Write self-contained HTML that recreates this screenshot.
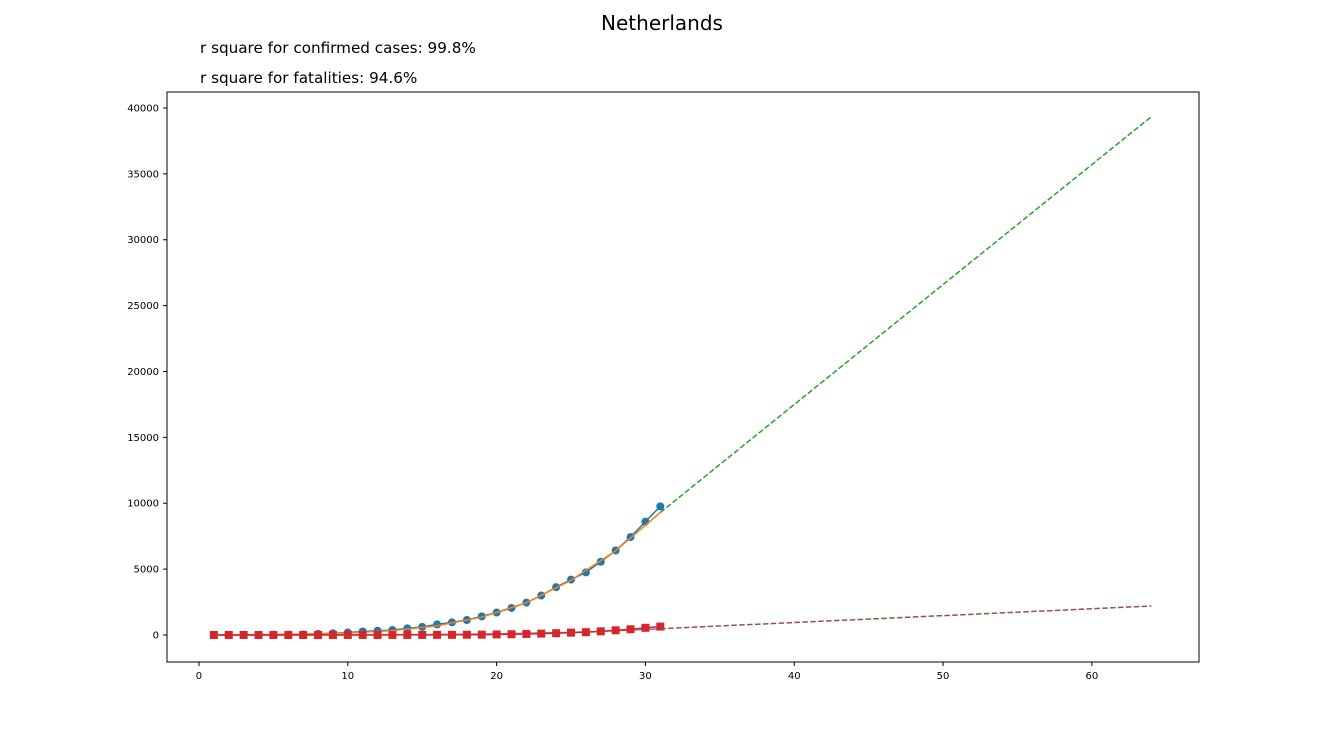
<!DOCTYPE html>
<html><head><meta charset="utf-8"><style>
body{margin:0;background:#fff;}
svg{display:block;font-family:"DejaVu Sans","Liberation Sans",sans-serif;}
</style></head><body>
<svg id="c" width="1332" height="756">
<text x="662" y="30" text-anchor="middle" font-size="20">Netherlands</text>
<text x="200" y="53" font-size="15.2">r square for confirmed cases: 99.8%</text>
<text x="200" y="83" font-size="15.2">r square for fatalities: 94.6%</text>
<g id="plot"></g>
</svg>
<script>
const days=[1,2,3,4,5,6,7,8,9,10,11,12,13,14,15,16,17,18,19,20,21,22,23,24,25,26,27,28,29,30,31];
const confirmed=[1,1,6,10,18,24,38,82,128,188,265,321,382,503,614,804,959,1135,1413,1705,2051,2460,2994,3631,4204,4749,5560,6412,7431,8603,9762];
const fatalities=[0,0,0,0,0,0,0,0,0,1,1,1,4,5,5,10,12,20,24,43,58,76,106,136,179,213,276,356,434,546,639];
const confFitDays=[1,5,10,13,16,19,22,25,28,31];
const confFit=[10,40,150,330,700,1350,2450,4150,6400,9300];
const confProjDays=[31,64];
const confProj=[9300,39350];
const fatFitDays=[1,10,15,20,25,28,31];
const fatFit=[0,10,30,80,200,320,480];
const fatProjDays=[31,64];
const fatProj=[480,2200];
const xTicks=[0,10,20,30,40,50,60];
const yTicks=[0,5000,10000,15000,20000,25000,30000,35000,40000];

const L=167,R=1199,T=92,B=662;
const xmin=-2.15,xmax=67.2,ymin=-2050,ymax=41214;
const X=v=>L+(v-xmin)/(xmax-xmin)*(R-L);
const Y=v=>B-(v-ymin)/(ymax-ymin)*(B-T);
const NS="http://www.w3.org/2000/svg";
const g=document.getElementById('plot');
function mk(t,a,p){const e=document.createElementNS(NS,t);for(const k in a)e.setAttribute(k,a[k]);(p||g).appendChild(e);return e;}
const pts=(xs,ys)=>xs.map((d,i)=>X(d).toFixed(1)+','+Y(ys[i]).toFixed(1)).join(' ');

xTicks.forEach(t=>{
 const l=mk('line',{x1:X(t),x2:X(t),y1:B,y2:B+4,stroke:'#000'});
 
 
 const tx=mk('text',{x:X(t),y:B+17,'text-anchor':'middle','font-size':10});
 tx.textContent=t;
 
 
});
yTicks.forEach(t=>{
 const l=mk('line',{x1:L-4,x2:L,y1:Y(t),y2:Y(t),stroke:'#000'});
 
 
 const tx=mk('text',{x:L-8,y:Y(t)+3.5,'text-anchor':'end','font-size':10});
 tx.textContent=t;
 
 
});

let e;
e=mk('polyline',{points:pts(days,confirmed),fill:'none',stroke:'#1f77b4','stroke-width':1.5});


days.forEach((d,i)=>{
 const c=mk('circle',{cx:X(d),cy:Y(confirmed[i]),r:4,fill:'#1f77b4'});
 
 
});
e=mk('polyline',{points:pts(confFitDays,confFit),fill:'none',stroke:'#ff7f0e','stroke-width':1.5,'stroke-linejoin':'round'});


e=mk('polyline',{points:pts(confProjDays,confProj),fill:'none',stroke:'#2ca02c','stroke-width':1.5,'stroke-dasharray':'5.5,2.4'});


e=mk('polyline',{points:pts(fatFitDays,fatFit),fill:'none',stroke:'#9467bd','stroke-width':1.5});


e=mk('polyline',{points:pts(days,fatalities),fill:'none',stroke:'#d62728','stroke-width':1.5});


days.forEach((d,i)=>{
 const s=mk('rect',{x:X(d)-4,y:Y(fatalities[i])-4,width:8,height:8,fill:'#d62728'});
 
 
});
e=mk('polyline',{points:pts(fatProjDays,fatProj),fill:'none',stroke:'#8c564b','stroke-width':1.5,'stroke-dasharray':'5.5,2.4'});


e=mk('rect',{x:L,y:T,width:R-L,height:B-T,fill:'none',stroke:'#000','stroke-width':1});


</script>
</body></html>
